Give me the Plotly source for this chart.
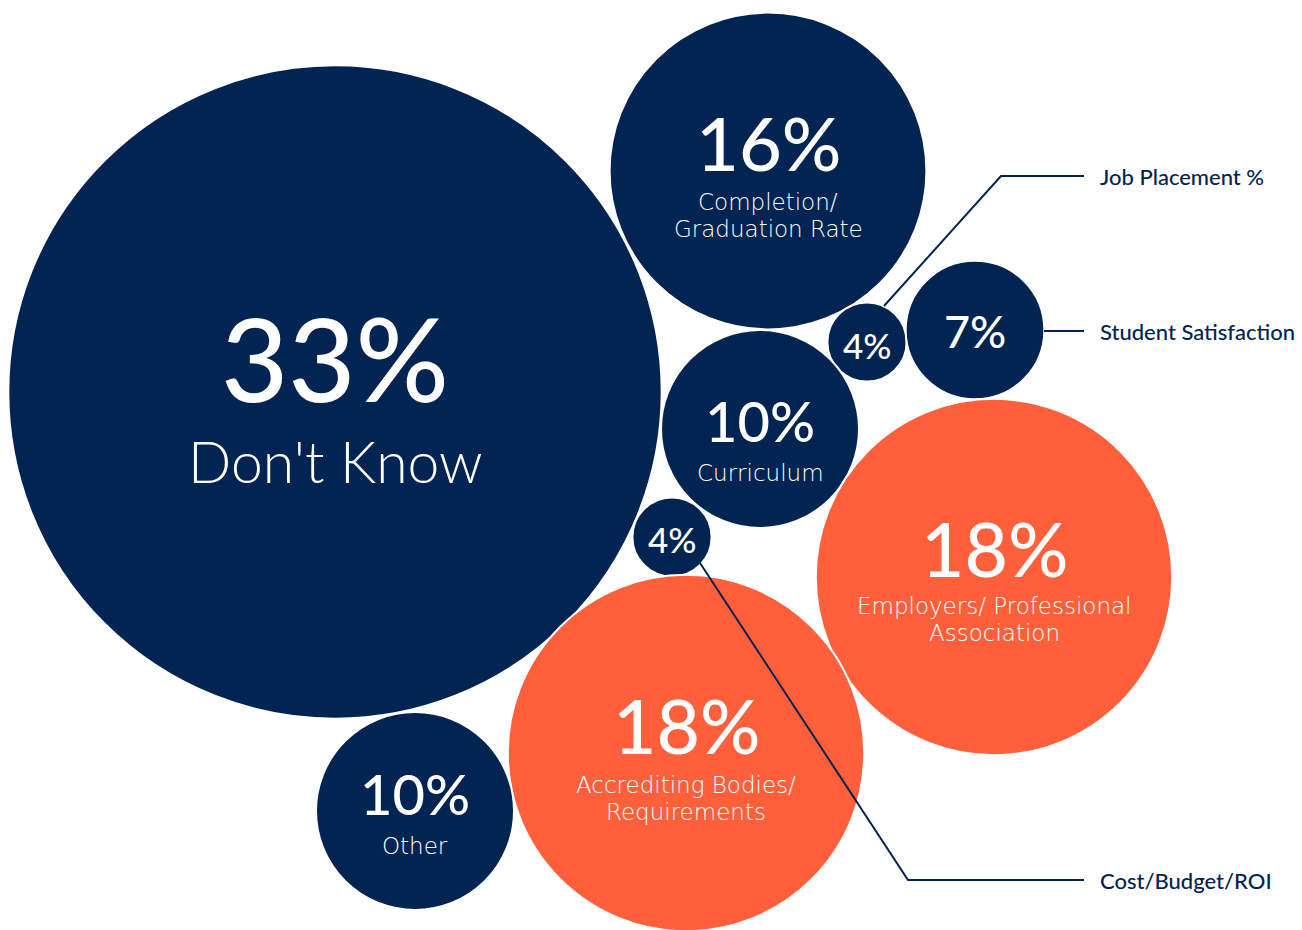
import plotly.graph_objects as go

# Survey shares (%) and their labels
categories = ["Don't Know", "Completion/<br>Graduation Rate", "Job Placement %",
              "Student Satisfaction", "Curriculum", "Cost/Budget/ROI",
              "Employers/ Professional<br>Association", "Accrediting Bodies/<br>Requirements",
              "Other"]
values = [33, 16, 4, 7, 10, 4, 18, 18, 10]
highlight = [False, False, False, False, False, False, True, True, False]
# where the category name is written: inside the bubble or as a call-out on the right
label_inside = [True, True, False, False, True, False, True, True, True]

# ---- layout (pixel canvas) ----
W, H = 1302, 930
PX_PER_PCT = 9.9          # bubble radius in px per percentage point
centers = [(335, 392), (768, 171), (867, 342), (975, 330), (760, 429),
           (672, 537), (994, 577), (686, 753), (415, 811)]
pct_font = [116, 74, 35, 45, 56, 35, 75, 75, 56]
lbl_font = [57, 23, 0, 0, 23, 0, 23, 23, 23]
lbl_family = ["Lato", "DejaVu Sans", None, None, "DejaVu Sans", None,
              "DejaVu Sans", "DejaVu Sans", "DejaVu Sans"]
# vertical offsets (px from bubble centre) of the percentage and each label line
pct_dy = [-35, -29, 3, 1, -9, 2, -29, -28, -18]
lbl_dy = [[69], [31, 58], [], [], [44], [], [29, 56], [32, 59], [35]]
callouts = {2: [(884, 306), (1001, 176), (1084, 176)],
            3: [(1044, 331), (1084, 331)],
            5: [(700, 563), (908, 880), (1084, 880)]}

NAVY = "#012453"
ORANGE = "#FF5F3B"
FONT = "Lato"

colors = [ORANGE if h else NAVY for h in highlight]

fig = go.Figure()
fig.add_trace(go.Scatter(
    x=[c[0] for c in centers], y=[c[1] for c in centers],
    mode="markers",
    marker=dict(size=[v * PX_PER_PCT * 2 for v in values], sizemode="diameter",
                sizeref=1, color=colors, opacity=1,
                line=dict(color="white", width=2)),
    hoverinfo="skip", showlegend=False, cliponaxis=False,
))

annotations = []
for i, (cat, v) in enumerate(zip(categories, values)):
    cx, cy = centers[i]
    annotations.append(dict(
        x=cx, y=cy + pct_dy[i], text=f"{v}%", showarrow=False,
        xanchor="center", yanchor="middle",
        font=dict(family=FONT, size=pct_font[i], color="white", weight=500)))
    if label_inside[i]:
        for line, dy in zip(cat.split("<br>"), lbl_dy[i]):
            annotations.append(dict(
                x=cx, y=cy + dy, text=line, showarrow=False,
                xanchor="center", yanchor="middle", borderpad=0,
                font=dict(family=lbl_family[i], size=lbl_font[i], color="white",
                          weight=300)))

for i, pts in callouts.items():
    fig.add_trace(go.Scatter(
        x=[p[0] for p in pts], y=[p[1] for p in pts], mode="lines",
        line=dict(color=NAVY, width=2), hoverinfo="skip", showlegend=False,
        cliponaxis=False))
    ex, ey = pts[-1]
    annotations.append(dict(
        x=ex + 14, y=ey, text=categories[i], showarrow=False,
        xanchor="left", yanchor="middle",
        font=dict(family=FONT, size=22, color=NAVY, weight=500)))

fig.update_layout(
    width=W, height=H, margin=dict(l=0, r=0, t=0, b=0),
    paper_bgcolor="white", plot_bgcolor="white",
    xaxis=dict(range=[0, W], visible=False, fixedrange=True),
    yaxis=dict(range=[H, 0], visible=False, fixedrange=True),
    annotations=annotations,
)

fig.write_html("out.html")
